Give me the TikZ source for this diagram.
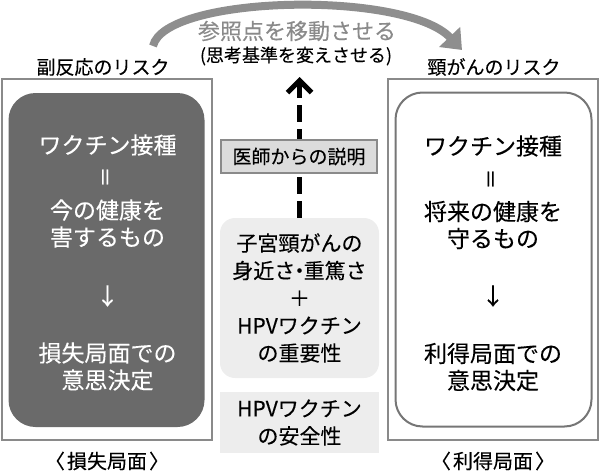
\documentclass[tikz,border=0pt]{standalone}
\usepackage{fontspec}
\setmainfont{Noto Sans CJK JP}[FakeBold=0.2]
\usepackage{xcolor}
\usetikzlibrary{arrows.meta}
\definecolor{framegray}{HTML}{8A8A8A}
\definecolor{panelgray}{HTML}{767676}
\definecolor{darkbox}{HTML}{6A6A6A}
\definecolor{lightbox}{HTML}{EDEDED}
\definecolor{notegray}{HTML}{DCDCDC}
\definecolor{curvegray}{HTML}{8E8E8E}

\begin{document}
\begin{tikzpicture}[x=1pt,y=-1pt,
  riskframe/.style={draw=framegray,line width=2pt,minimum width=210pt,minimum height=361pt},
  panel/.style={rounded corners=27pt,line width=2pt,minimum width=196pt,minimum height=334pt},
  maintext/.style={font=\fontsize{23}{27}\selectfont,align=center},
  eqsign/.style={font=\fontsize{20}{22}\selectfont,rotate=90},
  tag/.style={font=\fontsize{19}{22}\selectfont},
  phase/.style={font=\fontsize{20}{24}\selectfont},
  midbox/.style={fill=lightbox,minimum width=159pt,font=\fontsize{21}{27.5}\selectfont,align=center},
  curvearrow/.style={draw=curvegray,line width=8pt,-{Triangle[length=18pt,width=28pt]}},
  dasharrow/.style={line width=5pt,dash pattern=on 17pt off 7pt,-{Straight Barb[length=12pt,width=24pt]}}]
\useasboundingbox (0,0) rectangle (600,471);

\node[riskframe] (lossframe) at (107,259.5) {};
\node[panel,fill=darkbox] (losspanel) at (106.5,260) {};
\node[riskframe] (gainframe) at (492.5,259.5) {};
\node[panel,draw=panelgray,fill=white] (gainpanel) at (493.5,259.5) {};

\node[maintext,text=white] (lossvac) at (107.5,145) {ワクチン接種};
\node[eqsign,text=white] (losseq) at (107.5,177) {＝};
\node[maintext,text=white] (lossnow) at (107.5,223.5) {今の健康を\\害するもの};
\node[maintext,text=white] (lossdown) at (107.5,296) {↓};
\node[maintext,text=white] (lossdec) at (107.5,366.5) {損失局面での\\意思決定};

\node[maintext] (gainvac) at (493,146) {ワクチン接種};
\node[eqsign] (gaineq) at (493,179) {＝};
\node[maintext] (gainfut) at (493,225) {将来の健康を\\守るもの};
\node[maintext] (gaindown) at (493,296) {↓};
\node[maintext] (gaindec) at (493,367) {利得局面での\\意思決定};

\node[tag] (losslabel) at (103,67) {副反応のリスク};
\node[tag] (gainlabel) at (494,67) {頸がんのリスク};
\node[phase] (losstitle) at (107,461) {〈\kern.1em 損失局面\kern.1em〉};
\node[phase] (gaintitle) at (493,461) {〈\kern.1em 利得局面\kern.1em〉};

\node[midbox,rounded corners=15pt,minimum height=160pt] (factors) at (299.5,298) {子宮頸がんの\\身近さ\kern-.3em・\kern-.3em重篤さ\\＋\\HPVワクチン\\の重要性};
\node[midbox,minimum height=61pt] (safety) at (299.5,422.5) {HPVワクチン\\の安全性};

\coordinate (shifttip) at (299.5,77);
\draw[dasharrow] (factors.north) -- (shifttip);
\node[draw=framegray,line width=1.5pt,fill=notegray,minimum width=156pt,minimum height=33pt,font=\fontsize{19}{22}\selectfont] (doctor) at (299,156.5) {医師からの説明};

\coordinate (shiftfrom) at (153,46);
\coordinate (shiftto) at (462,50);
\draw[curvearrow] (shiftfrom) .. controls (165,-5) and (405,-10) .. (shiftto);
\node[font=\fontsize{22}{26}\selectfont,text=framegray] (shifttitle) at (297,31) {参照点を移動させる};
\node[font=\fontsize{18}{22}\selectfont] (shiftnote) at (296,56) {(思考基準を変えさせる)};
\end{tikzpicture}
\end{document}
